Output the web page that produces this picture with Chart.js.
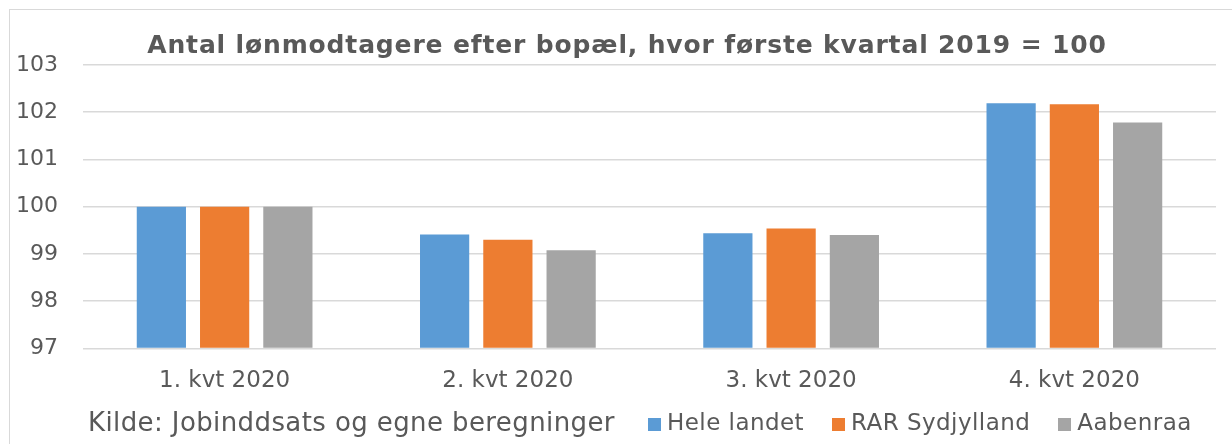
<!DOCTYPE html>
<html>
<head>
<meta charset="utf-8">
<script src="https://cdn.jsdelivr.net/npm/chart.js@4/dist/chart.umd.min.js"></script>
<style>
  html, body { margin: 0; padding: 0; background: #fff; }
  #wrap { position: relative; width: 1232px; height: 444px; overflow: hidden; background: #fff; font-family: "DejaVu Sans", Verdana, sans-serif; color: #595959; }
  #frame { position: absolute; left: 9px; top: 9px; width: 1240px; height: 460px; border: 1px solid #d9d9d9; box-sizing: border-box; }
  #c { position: absolute; left: 0; top: 0; }
  #title { position: absolute; left: 0; top: 30px; width: 1254px; text-align: center; font-weight: bold; font-size: 25px; letter-spacing: 0.85px; line-height: 30px; white-space: nowrap; }
  #bottom { position: absolute; left: 0; top: 405px; width: 1232px; height: 36px; }
  #kilde { position: absolute; left: 88px; top: 0; white-space: nowrap; line-height: 34px; font-size: 26px; letter-spacing: 0.4px; }
  #legend { position: absolute; left: 648px; top: 0; display: flex; white-space: nowrap; line-height: 34px; font-size: 23px; letter-spacing: 0.45px; }
  .item { display: flex; align-items: center; margin-right: 28px; }
  .box { width: 13px; height: 13px; margin-right: 6px; margin-top: 4px; }
</style>
</head>
<body>
<div id="wrap">
  <div id="frame"></div>
  <canvas id="c" width="1232" height="414"></canvas>
  <div id="title"></div>
  <div id="bottom">
    <div id="kilde"></div>
    <div id="legend"></div>
  </div>
</div>
<script>
const title = "Antal lønmodtagere efter bopæl, hvor første kvartal 2019 = 100";
const source = "Kilde: Jobinddsats og egne beregninger";
const categories = ["1. kvt 2020", "2. kvt 2020", "3. kvt 2020", "4. kvt 2020"];
const seriesNames = ["Hele landet", "RAR Sydjylland", "Aabenraa"];
const seriesColors = ["#5b9bd5", "#ed7d31", "#a5a5a5"];
const heleLandet = [100, 99.41, 99.44, 102.19];
const rarSydjylland = [100, 99.30, 99.54, 102.17];
const aabenraa = [100, 99.08, 99.40, 101.78];
const yTicks = [97, 98, 99, 100, 101, 102, 103];

const seriesValues = [heleLandet, rarSydjylland, aabenraa];
const textColor = "#595959";
const fontFamily = '"DejaVu Sans", Verdana, sans-serif';

document.getElementById('title').textContent = title;
document.getElementById('kilde').textContent = source;
const legendEl = document.getElementById('legend');
seriesNames.forEach((n, i) => {
  const it = document.createElement('div'); it.className = 'item';
  const b = document.createElement('div'); b.className = 'box'; b.style.background = seriesColors[i];
  const t = document.createElement('span'); t.textContent = n;
  it.appendChild(b); it.appendChild(t); legendEl.appendChild(it);
});

new Chart(document.getElementById('c'), {
  type: 'bar',
  data: {
    labels: categories,
    datasets: seriesNames.map((n, i) => ({
      label: n,
      data: seriesValues[i],
      backgroundColor: seriesColors[i],
      borderWidth: 0,
      categoryPercentage: 0.67,
      barPercentage: 0.778,
      base: yTicks[0]
    }))
  },
  options: {
    responsive: false,
    animation: false,
    layout: { padding: { left: 12, right: 16, top: 65, bottom: 0 } },
    plugins: {
      legend: { display: false },
      tooltip: { enabled: false },
      title: { display: false }
    },
    scales: {
      x: {
        grid: { display: false, drawTicks: false },
        border: { display: false },
        ticks: { color: textColor, font: { family: fontFamily, size: 23 }, padding: 19 }
      },
      y: {
        min: yTicks[0],
        max: yTicks[yTicks.length - 1],
        afterFit: (s) => { s.width = 71; },
        afterBuildTicks: (s) => { s.ticks = yTicks.map(v => ({ value: v })); },
        grid: { color: '#d9d9d9', lineWidth: 1.5, drawTicks: false },
        border: { display: false },
        ticks: { color: textColor, font: { family: fontFamily, size: 22 }, padding: 25 }
      }
    }
  }
});
</script>
</body>
</html>
